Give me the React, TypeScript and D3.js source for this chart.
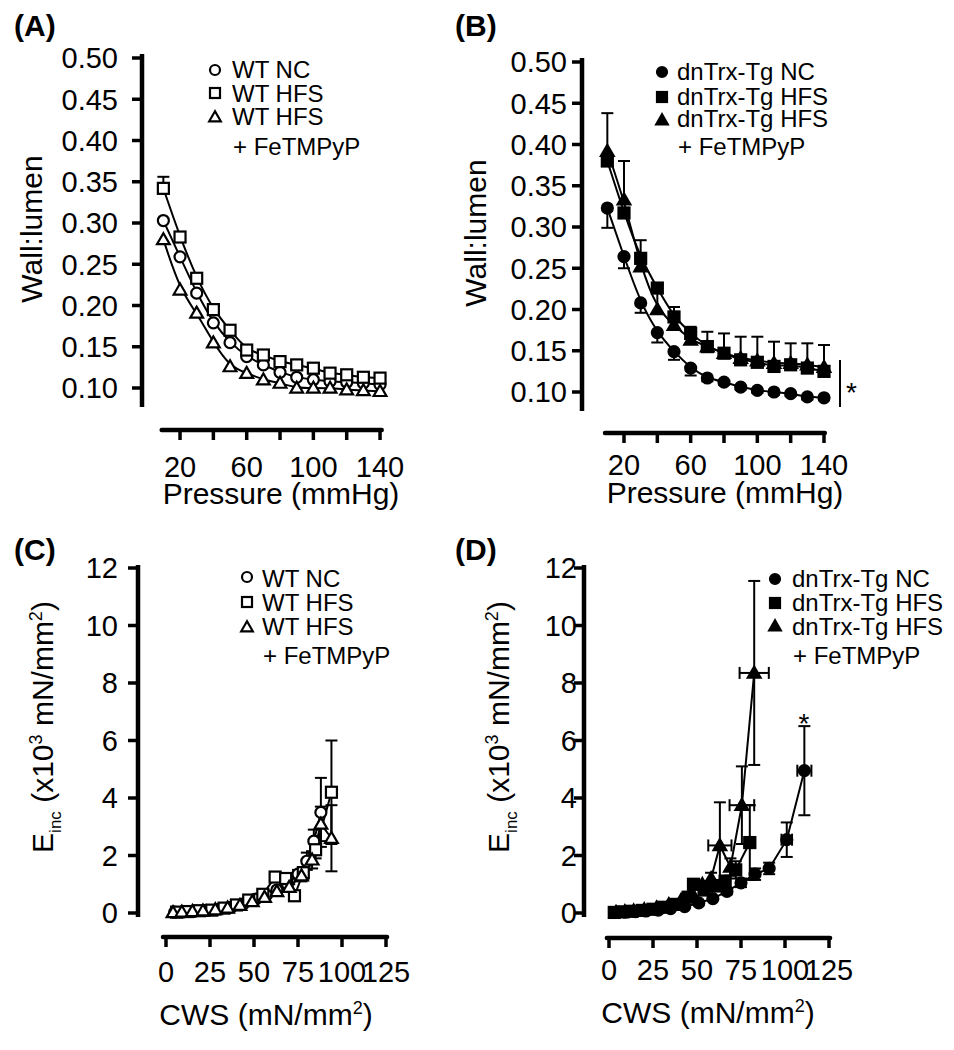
import React from 'react';
import * as d3 from 'd3';

// ---------- DATA ----------
const pressure = [10, 20, 30, 40, 50, 60, 70, 80, 90, 100, 110, 120, 130, 140];
const wallLumenTicks = [0.1, 0.15, 0.2, 0.25, 0.3, 0.35, 0.4, 0.45, 0.5];
const pressureTicks = [20, 40, 60, 80, 100, 120, 140];
const pressureTickLabels = [20, 60, 100, 140];

// Panel A (WT)
const A_nc = [0.303, 0.259, 0.215, 0.179, 0.155, 0.138, 0.128, 0.119, 0.113, 0.11, 0.108, 0.107, 0.106, 0.104];
const A_hfs = [0.342, 0.283, 0.233, 0.195, 0.17, 0.146, 0.14, 0.132, 0.128, 0.124, 0.118, 0.116, 0.113, 0.112];
const A_hfsErr = [0.014, 0.006, 0.006, 0.005, 0.004, 0.003, 0.003, 0.003, 0.003, 0.003, 0.003, 0.003, 0.003, 0.003];
const A_fe = [0.28, 0.219, 0.191, 0.155, 0.126, 0.118, 0.11, 0.106, 0.1, 0.1, 0.1, 0.098, 0.097, 0.096];

// Panel B (dnTrx-Tg)
const B_nc = [0.323, 0.264, 0.208, 0.172, 0.149, 0.129, 0.117, 0.112, 0.106, 0.102, 0.1, 0.098, 0.094, 0.093];
const B_ncErrDown = [0.024, 0.014, 0.012, 0.012, 0.01, 0.009, 0.004, 0.003, 0.003, 0.003, 0.003, 0.003, 0.003, 0.003];
const B_hfs = [0.38, 0.317, 0.262, 0.226, 0.191, 0.171, 0.155, 0.147, 0.139, 0.136, 0.131, 0.133, 0.129, 0.125];
const B_fe = [0.392, 0.333, 0.252, 0.2, 0.181, 0.163, 0.155, 0.147, 0.141, 0.138, 0.135, 0.135, 0.133, 0.13];
const B_feErrUp = [0.046, 0.047, 0.032, 0.03, 0.022, 0.016, 0.018, 0.024, 0.026, 0.029, 0.026, 0.024, 0.026, 0.027];

// Panel C (WT, incremental elastic modulus vs circumferential wall stress)
const eincTicks = [0, 2, 4, 6, 8, 10, 12];
const cwsTicks = [0, 25, 50, 75, 100, 125];
const C_ncX = [5, 10, 16, 23, 30, 37, 44, 51, 57, 63, 69, 75, 80, 84, 88];
const C_ncY = [0.03, 0.04, 0.06, 0.09, 0.13, 0.2, 0.32, 0.48, 0.62, 0.8, 1.0, 1.35, 1.8, 2.5, 3.5];
const C_ncErr = [0, 0, 0, 0, 0, 0, 0, 0, 0, 0, 0.1, 0.15, 0.3, 0.4, 1.2];
const C_hfsX = [6, 12, 19, 26, 33, 40, 47, 55, 62, 68, 73, 78, 85, 94];
const C_hfsY = [0.03, 0.05, 0.08, 0.1, 0.17, 0.28, 0.45, 0.65, 1.25, 1.2, 0.6, 1.4, 2.2, 4.2];
const C_hfsErr = [0, 0, 0, 0, 0, 0, 0, 0, 0.1, 0.1, 0.1, 0.2, 0.3, 1.8];
const C_feX = [4, 9, 15, 21, 28, 35, 42, 49, 56, 63, 70, 77, 83, 88, 94];
const C_feY = [0.02, 0.04, 0.06, 0.08, 0.12, 0.18, 0.27, 0.4, 0.55, 0.75, 0.9, 1.3, 1.85, 3.1, 2.6];
const C_feErr = [0, 0, 0, 0, 0, 0, 0, 0, 0, 0, 0.1, 0.2, 0.3, 0.6, 1.15];

// Panel D (dnTrx-Tg)
const D_ncX = [4, 9, 15, 21, 28, 35, 43, 51, 59, 67, 75, 83, 91, 101, 111];
const D_ncY = [0.02, 0.03, 0.05, 0.07, 0.1, 0.15, 0.22, 0.35, 0.5, 0.75, 1.05, 1.35, 1.55, 2.55, 4.95];
const D_ncErr = [0, 0, 0, 0, 0, 0, 0, 0, 0, 0.1, 0.15, 0.2, 0.2, 0.6, 1.55];
const D_ncXErr = [0, 0, 0, 0, 0, 0, 0, 0, 0, 0, 0, 0, 0, 3, 4];
const D_hfsX = [3, 8, 13, 19, 25, 31, 38, 45, 48, 54, 60, 66, 72, 80];
const D_hfsY = [0.02, 0.04, 0.06, 0.09, 0.13, 0.2, 0.3, 0.55, 1.0, 0.8, 0.95, 1.1, 1.5, 2.45];
const D_hfsErr = [0, 0, 0, 0, 0, 0, 0, 0, 0.1, 0.1, 0.2, 0.2, 0.3, 1.3];
const D_hfsXErr = [0, 0, 0, 0, 0, 0, 0, 0, 0, 0, 0, 0, 2, 3];
const D_feX = [4, 9, 14, 20, 27, 34, 41, 47, 53, 58, 63, 69, 75.5, 82.5];
const D_feY = [0.03, 0.05, 0.08, 0.12, 0.18, 0.3, 0.45, 0.7, 1.0, 1.2, 2.35, 1.6, 3.75, 8.35];
const D_feErr = [0, 0, 0, 0, 0, 0, 0, 0, 0.1, 0.2, 1.5, 0.3, 1.35, 3.2];
const D_feXErr = [0, 0, 0, 0, 0, 0, 0, 0, 0, 0, 6.6, 0, 7, 8.3];

const legendWT = ['WT NC', 'WT HFS', 'WT HFS'];
const legendTg = ['dnTrx-Tg NC', 'dnTrx-Tg HFS', 'dnTrx-Tg HFS'];
const legendExtra = '+ FeTMPyP';

// ---------- HELPERS ----------
const FONT = '"Liberation Sans", Arial, Helvetica, sans-serif';
const TICK_FS = 29;
const TITLE_FS = 30;
type Shape = 'circle' | 'square' | 'triangle';

function Marker({ shape, x, y, s, filled }: { shape: Shape; x: number; y: number; s: number; filled: boolean }) {
  const fill = filled ? '#000' : '#fff';
  const sw = 2.2;
  if (shape === 'circle') return <circle cx={x} cy={y} r={s / 2} fill={fill} stroke="#000" strokeWidth={sw} />;
  if (shape === 'square')
    return <rect x={x - s / 2} y={y - s / 2} width={s} height={s} fill={fill} stroke="#000" strokeWidth={sw} />;
  const h = s * 0.95;
  const pts = `${x},${y - h * 0.6} ${x - s * 0.58},${y + h * 0.45} ${x + s * 0.58},${y + h * 0.45}`;
  return <polygon points={pts} fill={fill} stroke="#000" strokeWidth={sw} strokeLinejoin="miter" />;
}

type Series = {
  xs: number[];
  ys: number[];
  shape: Shape;
  errUp?: number[];
  errDown?: number[];
  xErr?: number[];
};

type PanelProps = {
  label: string;
  labelX: number;
  labelY: number;
  xScale: d3.ScaleLinear<number, number>;
  yScale: d3.ScaleLinear<number, number>;
  yAxisX: number;
  yAxisRange: [number, number];
  xAxisY: number;
  xAxisRange: [number, number];
  yTicks: number[];
  yTickFmt: (v: number) => string;
  yLabelRight: number;
  xTicks: number[];
  xTickLabels: number[];
  xLabelBaseline: number;
  series: Series[];
  filled: boolean;
  smooth: boolean;
  legendNames: string[];
  legendMarkerX: number;
  legendTextX: number;
  legendRows: number[];
  legendBaselines: number[];
  legendExtraBaseline: number;
  children?: React.ReactNode;
};

function Panel(p: PanelProps) {
  const line = d3
    .line<[number, number]>()
    .x((d) => p.xScale(d[0]))
    .y((d) => p.yScale(d[1]))
    .curve(p.smooth ? d3.curveBasis : d3.curveLinear);
  const shapes: Shape[] = ['circle', 'square', 'triangle'];
  return (
    <g>
      <text x={p.labelX} y={p.labelY} fontSize={30} fontWeight="bold" fontFamily={FONT}>
        {p.label}
      </text>
      {/* y axis */}
      <line x1={p.yAxisX} x2={p.yAxisX} y1={p.yAxisRange[0]} y2={p.yAxisRange[1]} stroke="#000" strokeWidth={4.5} />
      {p.yTicks.map((t) => (
        <g key={'yt' + t}>
          <line x1={p.yAxisX - 10} x2={p.yAxisX} y1={p.yScale(t)} y2={p.yScale(t)} stroke="#000" strokeWidth={3.5} />
          <text x={p.yLabelRight} y={p.yScale(t)} dy="0.36em" textAnchor="end" fontSize={TICK_FS} fontFamily={FONT}>
            {p.yTickFmt(t)}
          </text>
        </g>
      ))}
      {/* x axis */}
      <line x1={p.xAxisRange[0]} x2={p.xAxisRange[1]} y1={p.xAxisY} y2={p.xAxisY} stroke="#000" strokeWidth={4.5} strokeLinecap="round" />
      {p.xTicks.map((t) => (
        <line key={'xt' + t} x1={p.xScale(t)} x2={p.xScale(t)} y1={p.xAxisY} y2={p.xAxisY + 10} stroke="#000" strokeWidth={3.5} />
      ))}
      {p.xTickLabels.map((t) => (
        <text key={'xl' + t} x={p.xScale(t)} y={p.xLabelBaseline} textAnchor="middle" fontSize={TICK_FS} fontFamily={FONT}>
          {t}
        </text>
      ))}
      {/* error bars */}
      {p.series.map((s, si) =>
        s.xs.map((x, i) => {
          const cx = p.xScale(x);
          const cy = p.yScale(s.ys[i]);
          const els: React.ReactNode[] = [];
          const up = s.errUp ? s.errUp[i] : 0;
          const dn = s.errDown ? s.errDown[i] : 0;
          if (up > 0) {
            const yt = p.yScale(s.ys[i] + up);
            els.push(<line key="u" x1={cx} x2={cx} y1={cy} y2={yt} stroke="#000" strokeWidth={2} />);
            els.push(<line key="uc" x1={cx - 6} x2={cx + 6} y1={yt} y2={yt} stroke="#000" strokeWidth={2} />);
          }
          if (dn > 0) {
            const yb = p.yScale(s.ys[i] - dn);
            els.push(<line key="d" x1={cx} x2={cx} y1={cy} y2={yb} stroke="#000" strokeWidth={2} />);
            els.push(<line key="dc" x1={cx - 6} x2={cx + 6} y1={yb} y2={yb} stroke="#000" strokeWidth={2} />);
          }
          const xe = s.xErr ? s.xErr[i] : 0;
          if (xe > 0) {
            const xl = p.xScale(x - xe);
            const xr = p.xScale(x + xe);
            els.push(<line key="h" x1={xl} x2={xr} y1={cy} y2={cy} stroke="#000" strokeWidth={2} />);
            els.push(<line key="hl" x1={xl} x2={xl} y1={cy - 6} y2={cy + 6} stroke="#000" strokeWidth={2} />);
            els.push(<line key="hr" x1={xr} x2={xr} y1={cy - 6} y2={cy + 6} stroke="#000" strokeWidth={2} />);
          }
          return <g key={`e${si}-${i}`}>{els}</g>;
        })
      )}
      {/* lines */}
      {p.series.map((s, si) => (
        <path
          key={'l' + si}
          d={line(s.xs.map((x, i) => [x, s.ys[i]] as [number, number])) || ''}
          fill="none"
          stroke="#000"
          strokeWidth={2}
        />
      ))}
      {/* markers */}
      {p.series.map((s, si) =>
        s.xs.map((x, i) => (
          <Marker key={`m${si}-${i}`} shape={s.shape} x={p.xScale(x)} y={p.yScale(s.ys[i])} s={11} filled={p.filled} />
        ))
      )}
      {/* legend */}
      {p.legendNames.map((n, i) => (
        <g key={'lg' + i}>
          <Marker shape={shapes[i]} x={p.legendMarkerX} y={p.legendRows[i]} s={10} filled={p.filled} />
          <text x={p.legendTextX} y={p.legendBaselines[i]} fontSize={24} fontFamily={FONT}>
            {n}
          </text>
        </g>
      ))}
      <text x={p.legendTextX + 1} y={p.legendExtraBaseline} fontSize={24} fontFamily={FONT}>
        {legendExtra}
      </text>
      {p.children}
    </g>
  );
}

function EincLabel({ x, y }: { x: number; y: number }) {
  return (
    <text transform={`translate(${x},${y}) rotate(-90)`} textAnchor="middle" fontSize={TITLE_FS} fontFamily={FONT}>
      E
      <tspan fontSize={17} dy={8}>
        inc
      </tspan>
      <tspan dy={-8}> (x10</tspan>
      <tspan fontSize={18} dy={-11}>
        3
      </tspan>
      <tspan dy={11}> mN/mm</tspan>
      <tspan fontSize={18} dy={-11}>
        2
      </tspan>
      <tspan dy={11}>)</tspan>
    </text>
  );
}

function CwsLabel({ x, y }: { x: number; y: number }) {
  return (
    <text x={x} y={y} textAnchor="middle" fontSize={TITLE_FS} fontFamily={FONT}>
      CWS (mN/mm
      <tspan fontSize={18} dy={-11}>
        2
      </tspan>
      <tspan dy={11}>)</tspan>
    </text>
  );
}

export default function App() {
  const fmt2 = (v: number) => v.toFixed(2);
  const fmt0 = (v: number) => String(v);

  // Panel A scales
  const xA = d3.scaleLinear().domain([9, 141]).range([161.7, 381.7]);
  const yA = d3.scaleLinear().domain([0.1, 0.5]).range([388, 58]);
  // Panel B scales
  const xB = d3.scaleLinear().domain([20, 140]).range([624, 824]);
  const yB = d3.scaleLinear().domain([0.1, 0.5]).range([392, 62]);
  // Panel C scales
  const xC = d3.scaleLinear().domain([0, 125]).range([166, 386]);
  const yC = d3.scaleLinear().domain([0, 12]).range([913, 568]);
  // Panel D scales
  const xD = d3.scaleLinear().domain([0, 125]).range([609, 829]);
  const yD = d3.scaleLinear().domain([0, 12]).range([913, 568]);

  return (
    <svg
      width={954}
      height={1050}
      viewBox="0 0 954 1050"
      style={{ position: 'absolute', left: 0, top: 0, background: '#fff' }}
    >
      <rect width={954} height={1050} fill="#fff" />
      {/* Panel A */}
      <Panel
        label="(A)"
        labelX={14}
        labelY={36}
        xScale={xA}
        yScale={yA}
        yAxisX={142}
        yAxisRange={[54, 407]}
        xAxisY={430}
        xAxisRange={[xA(9), xA(141)]}
        yTicks={wallLumenTicks}
        yTickFmt={fmt2}
        yLabelRight={118}
        xTicks={pressureTicks}
        xTickLabels={pressureTickLabels}
        xLabelBaseline={477}
        series={[
          { xs: pressure, ys: A_nc, shape: 'circle' },
          { xs: pressure, ys: A_hfs, shape: 'square', errUp: A_hfsErr },
          { xs: pressure, ys: A_fe, shape: 'triangle' },
        ]}
        filled={false}
        smooth={true}
        legendNames={legendWT}
        legendMarkerX={215}
        legendTextX={232}
        legendRows={[70, 93, 117]}
        legendBaselines={[78, 102, 125]}
        legendExtraBaseline={155}
      >
        <text transform="translate(42,229) rotate(-90)" textAnchor="middle" fontSize={TITLE_FS} fontFamily={FONT}>
          Wall:lumen
        </text>
        <text x={281} y={504} textAnchor="middle" fontSize={TITLE_FS} fontFamily={FONT}>
          Pressure (mmHg)
        </text>
      </Panel>

      {/* Panel B */}
      <Panel
        label="(B)"
        labelX={455}
        labelY={36}
        xScale={xB}
        yScale={yB}
        yAxisX={582}
        yAxisRange={[58, 411]}
        xAxisY={433}
        xAxisRange={[xB(8.6), xB(140.5)]}
        yTicks={wallLumenTicks}
        yTickFmt={fmt2}
        yLabelRight={567}
        xTicks={pressureTicks}
        xTickLabels={pressureTickLabels}
        xLabelBaseline={475}
        series={[
          { xs: pressure, ys: B_nc, shape: 'circle', errDown: B_ncErrDown },
          { xs: pressure, ys: B_hfs, shape: 'square' },
          { xs: pressure, ys: B_fe, shape: 'triangle', errUp: B_feErrUp },
        ]}
        filled={true}
        smooth={true}
        legendNames={legendTg}
        legendMarkerX={662}
        legendTextX={677}
        legendRows={[72, 97, 120]}
        legendBaselines={[80, 105, 127]}
        legendExtraBaseline={155}
      >
        <text transform="translate(486,233) rotate(-90)" textAnchor="middle" fontSize={TITLE_FS} fontFamily={FONT}>
          Wall:lumen
        </text>
        <text x={725} y={503} textAnchor="middle" fontSize={TITLE_FS} fontFamily={FONT}>
          Pressure (mmHg)
        </text>
        <line x1={840} x2={840} y1={360} y2={407} stroke="#000" strokeWidth={2} />
        <text x={846} y={402} fontSize={28} fontFamily={FONT}>
          *
        </text>
      </Panel>

      {/* Panel C */}
      <Panel
        label="(C)"
        labelX={14}
        labelY={560}
        xScale={xC}
        yScale={yC}
        yAxisX={138}
        yAxisRange={[565, 917]}
        xAxisY={937}
        xAxisRange={[xC(-1.7), xC(125.6)]}
        yTicks={eincTicks}
        yTickFmt={fmt0}
        yLabelRight={118}
        xTicks={cwsTicks}
        xTickLabels={cwsTicks}
        xLabelBaseline={982}
        series={[
          { xs: C_ncX, ys: C_ncY, shape: 'circle', errUp: C_ncErr, errDown: C_ncErr },
          { xs: C_hfsX, ys: C_hfsY, shape: 'square', errUp: C_hfsErr, errDown: C_hfsErr },
          { xs: C_feX, ys: C_feY, shape: 'triangle', errUp: C_feErr, errDown: C_feErr },
        ]}
        filled={false}
        smooth={false}
        legendNames={legendWT}
        legendMarkerX={247}
        legendTextX={262}
        legendRows={[577, 602, 627]}
        legendBaselines={[587, 611, 635]}
        legendExtraBaseline={664}
      >
        <EincLabel x={53} y={727} />
        <CwsLabel x={266} y={1025} />
      </Panel>

      {/* Panel D */}
      <Panel
        label="(D)"
        labelX={455}
        labelY={560}
        xScale={xD}
        yScale={yD}
        yAxisX={584}
        yAxisRange={[565, 917]}
        xAxisY={938}
        xAxisRange={[xD(-1.2), xD(125.6)]}
        yTicks={eincTicks}
        yTickFmt={fmt0}
        yLabelRight={577}
        xTicks={cwsTicks}
        xTickLabels={cwsTicks}
        xLabelBaseline={980}
        series={[
          { xs: D_ncX, ys: D_ncY, shape: 'circle', errUp: D_ncErr, errDown: D_ncErr, xErr: D_ncXErr },
          { xs: D_hfsX, ys: D_hfsY, shape: 'square', errUp: D_hfsErr, errDown: D_hfsErr, xErr: D_hfsXErr },
          { xs: D_feX, ys: D_feY, shape: 'triangle', errUp: D_feErr, errDown: D_feErr, xErr: D_feXErr },
        ]}
        filled={true}
        smooth={false}
        legendNames={legendTg}
        legendMarkerX={775}
        legendTextX={792}
        legendRows={[579, 603, 626]}
        legendBaselines={[587, 611, 635]}
        legendExtraBaseline={664}
      >
        <EincLabel x={509} y={727} />
        <CwsLabel x={708} y={1023} />
        <text x={804} y={733} textAnchor="middle" fontSize={28} fontFamily={FONT}>
          *
        </text>
      </Panel>
    </svg>
  );
}
